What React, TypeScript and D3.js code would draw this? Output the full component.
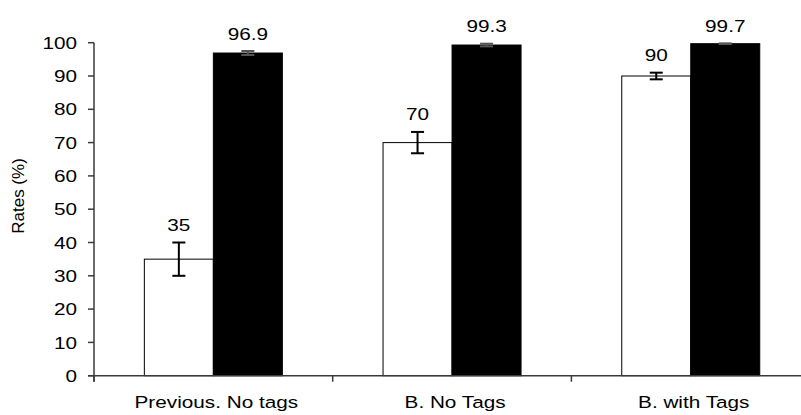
import React from "react";
import * as d3 from "d3";

const categories = ["Previous. No tags", "B. No Tags", "B. with Tags"];
const whiteValues = [35, 70, 90];
const whiteErrors = [5, 3.2, 1];
const blackValues = [96.9, 99.3, 99.7];
const blackErrors = [0.6, 0.4, 0.1];
const yTicks = [0, 10, 20, 30, 40, 50, 60, 70, 80, 90, 100];

const W = 801;
const H = 415;
const axisX = 94;
const y0 = 375.7;
const y100 = 42.7;
const bandW = 238.7;
const barW = 69;
const SX = 1.22;
const FS = 17;
const FONT = "'Liberation Sans', Arial, Helvetica, sans-serif";
const AXIS = "#3a3a3a";

export default function App() {
  const x = d3
    .scaleBand<string>()
    .domain(categories)
    .range([axisX, axisX + bandW * categories.length])
    .paddingInner(0)
    .paddingOuter(0);
  const y = d3.scaleLinear().domain([0, 100]).range([y0, y100]);

  const series = [
    { values: whiteValues, errors: whiteErrors, fill: "#ffffff", offset: -barW },
    { values: blackValues, errors: blackErrors, fill: "#000000", offset: 0 },
  ];

  const catTicks = [...categories.map((c) => x(c) as number), axisX + bandW * categories.length];

  return (
    <svg
      width={W}
      height={H}
      style={{ position: "absolute", left: 0, top: 0, background: "#fff" }}
      fontFamily={FONT}
    >
      {series.map((s, si) =>
        categories.map((c, i) => {
          const cx = (x(c) as number) + x.bandwidth() / 2;
          const left = cx + s.offset;
          return (
            <rect
              key={`b${si}-${i}`}
              x={left}
              y={y(s.values[i])}
              width={barW}
              height={y(0) - y(s.values[i])}
              fill={s.fill}
              stroke="#000"
              strokeWidth={1}
            />
          );
        })
      )}
      {series.map((s, si) =>
        categories.map((c, i) => {
          const cx = (x(c) as number) + x.bandwidth() / 2 + s.offset + barW / 2;
          const hi = y(s.values[i] + s.errors[i]);
          const lo = y(s.values[i] - s.errors[i]);
          const col = si === 0 ? "#000" : "#555";
          return (
            <g key={`e${si}-${i}`} stroke={col} strokeWidth={2}>
              <line x1={cx} x2={cx} y1={hi} y2={lo} />
              <line x1={cx - 6.5} x2={cx + 6.5} y1={hi} y2={hi} />
              <line x1={cx - 6.5} x2={cx + 6.5} y1={lo} y2={lo} />
            </g>
          );
        })
      )}
      {series.map((s, si) =>
        categories.map((c, i) => {
          const cx = (x(c) as number) + x.bandwidth() / 2 + s.offset + barW / 2;
          const ty = y(s.values[i] + s.errors[i]) - 11.5;
          return (
            <text
              key={`v${si}-${i}`}
              transform={`translate(${cx},${ty}) scale(${SX},1)`}
              textAnchor="middle"
              fontSize={FS}
              fill="#000"
            >
              {String(s.values[i])}
            </text>
          );
        })
      )}
      <line x1={axisX} x2={axisX} y1={y(100)} y2={y(0) + 6} stroke={AXIS} strokeWidth={1.5} />
      {yTicks.map((t) => (
        <g key={`yt${t}`}>
          <line x1={axisX - 6} x2={axisX} y1={y(t)} y2={y(t)} stroke={AXIS} strokeWidth={1.5} />
          <text
            transform={`translate(77,${y(t)}) scale(${SX},1)`}
            textAnchor="end"
            dy="0.36em"
            fontSize={FS}
            fill="#000"
          >
            {t}
          </text>
        </g>
      ))}
      <line x1={axisX - 6} x2={W} y1={y(0)} y2={y(0)} stroke={AXIS} strokeWidth={1.5} />
      {catTicks.map((tx, i) => (
        <line key={`xt${i}`} x1={tx} x2={tx} y1={y(0)} y2={y(0) + 6} stroke={AXIS} strokeWidth={1.5} />
      ))}
      {categories.map((c) => (
        <text
          key={`cl${c}`}
          transform={`translate(${(x(c) as number) + x.bandwidth() / 2 + 3},408) scale(${SX},1)`}
          textAnchor="middle"
          fontSize={FS}
          fill="#000"
        >
          {c}
        </text>
      ))}
      <text
        transform={`translate(24,196) rotate(-90)`}
        textAnchor="middle"
        fontSize={17}
        fill="#000"
      >
        Rates (%)
      </text>
    </svg>
  );
}
